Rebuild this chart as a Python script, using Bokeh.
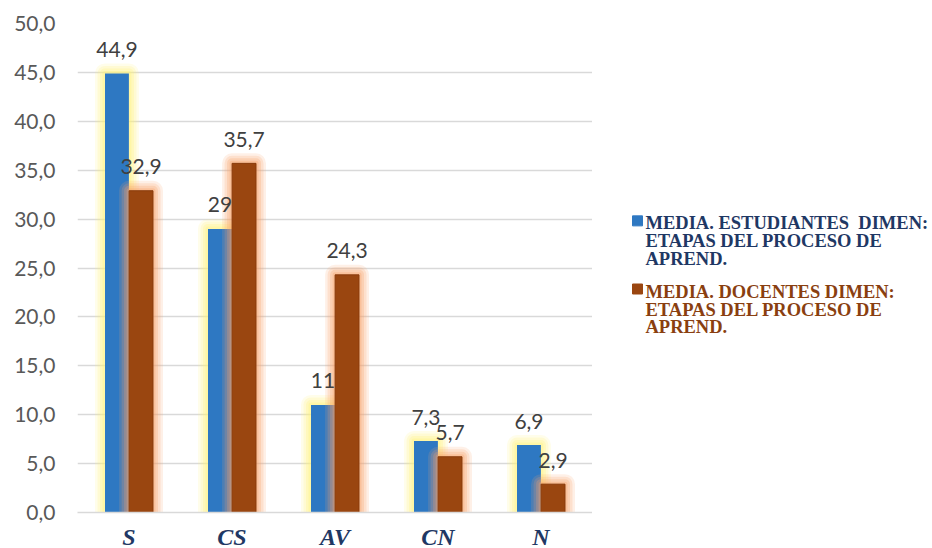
from bokeh.plotting import figure
from bokeh.layouts import row
from bokeh.models import ColumnDataSource, FactorRange, Range1d, CustomJSTickFormatter, FixedTicker
from bokeh.transform import dodge
from bokeh.core.properties import value
from bokeh.embed import file_html
from bokeh.resources import INLINE

categories = ["S", "CS", "AV", "CN", "N"]
estudiantes = [44.9, 29, 11, 7.3, 6.9]
docentes = [32.9, 35.7, 24.3, 5.7, 2.9]
legend_estudiantes = ["MEDIA. ESTUDIANTES\u00a0 DIMEN:", "ETAPAS DEL PROCESO DE", "APREND."]
legend_docentes = ["MEDIA. DOCENTES DIMEN:", "ETAPAS DEL PROCESO DE", "APREND."]
y_ticks = [0, 5, 10, 15, 20, 25, 30, 35, 40, 45, 50]

BLUE = "#2E78C2"
BROWN = "#9A4610"
BLUE_TXT = "#1F3864"
BROWN_TXT = "#8A3F10"


def fmt(v):
    return ("%g" % v).replace(".", ",")


src = ColumnDataSource(dict(
    cat=categories,
    est=estudiantes,
    doc=docentes,
    est_lbl=[fmt(v) for v in estudiantes],
    doc_lbl=[fmt(v) for v in docentes],
))

p = figure(
    x_range=FactorRange(*categories, range_padding=0),
    y_range=Range1d(0, 50),
    frame_width=515, frame_height=489,
    min_border_left=77, min_border_right=0, min_border_top=23, min_border_bottom=36,
    output_backend="svg", toolbar_location=None,
)
p.outline_line_color = None
p.background_fill_color = "white"
p.border_fill_color = "white"

W = 0.232
OFF = 0.117
x_est = dodge("cat", -OFF, range=p.x_range)
x_doc = dodge("cat", OFF, range=p.x_range)

glow_layers = [(20, 0.16), (15, 0.2), (10, 0.26), (5, 0.32)]

# blue glow + bars
for lw, a in glow_layers:
    p.vbar(x=x_est, top="est", width=W, bottom=0, source=src, fill_color=None,
           line_color="#FFF27A", line_alpha=a, line_width=lw, line_join="round")
p.vbar(x=x_est, top="est", width=W, bottom=0, source=src, fill_color=BLUE, line_color=None)

# brown glow + bars
for lw, a in glow_layers:
    p.vbar(x=x_doc, top="doc", width=W, bottom=0, source=src, fill_color=None,
           line_color="#F8A26A", line_alpha=a, line_width=lw, line_join="round")
p.vbar(x=x_doc, top="doc", width=W, bottom=0, source=src, fill_color=BROWN,
       line_color="#8A3C0C", line_width=1)

# data labels
for xs, col in [(x_est, "est"), (x_doc, "doc")]:
    p.text(x=xs, y=col, text=col + "_lbl", source=src, text_align="center", text_baseline="middle",
           y_offset=-24, text_font=value("Lato"), text_font_size="21px", text_color="#404040")

# axes
p.yaxis.ticker = FixedTicker(ticks=y_ticks)
p.ygrid.ticker = FixedTicker(ticks=y_ticks)
p.yaxis.formatter = CustomJSTickFormatter(code="return tick.toFixed(1).replace('.', ',');")
p.yaxis.axis_line_color = None
p.yaxis.major_tick_line_color = None
p.yaxis.minor_tick_line_color = None
p.yaxis.major_tick_out = 0
p.yaxis.major_tick_in = 0
p.yaxis.major_label_standoff = 22
p.yaxis.major_label_text_font = "Lato"
p.yaxis.major_label_text_font_size = "21px"
p.yaxis.major_label_text_color = "#595959"

p.xaxis.axis_line_color = "#D9D9D9"
p.xaxis.axis_line_width = 1.5
p.xaxis.major_tick_line_color = None
p.xaxis.major_tick_out = 0
p.xaxis.major_tick_in = 0
p.xaxis.major_label_standoff = 11
p.xaxis.major_label_text_font = "Liberation Serif"
p.xaxis.major_label_text_font_style = "bold italic"
p.xaxis.major_label_text_font_size = "24px"
p.xaxis.major_label_text_color = BLUE_TXT

p.xgrid.grid_line_color = None
p.ygrid.grid_line_color = "#D9D9D9"
p.ygrid.grid_line_width = 1.5

# legend panel (separate figure to the right)
LW, LH = 340, 548
lg = figure(width=LW, height=LH, x_range=Range1d(0, LW), y_range=Range1d(LH, 0),
            x_axis_type=None, y_axis_type=None, output_backend="svg", toolbar_location=None,
            min_border=0)
lg.outline_line_color = None
lg.grid.grid_line_color = None
lg.background_fill_color = "white"
lg.border_fill_color = "white"

txt_x, txt_y, txt_s, txt_c = [], [], [], []
mk_x, mk_y, mk_c = [], [], []
for lines, ys, mky, tcol, mcol in [
    (legend_estudiantes, [225, 246, 266], 223, BLUE_TXT, BLUE),
    (legend_docentes, [303, 324, 343], 300, BROWN_TXT, BROWN),
]:
    mk_x.append(45)
    mk_y.append(mky)
    mk_c.append(mcol)
    for line, yy in zip(lines, ys):
        txt_x.append(53)
        txt_y.append(yy)
        txt_s.append(line)
        txt_c.append(tcol)

lg.scatter(x=mk_x, y=mk_y, color=mk_c, marker="square", size=10)
lg.text(x=txt_x, y=txt_y, text=txt_s, text_color=txt_c, text_align="left", text_baseline="middle",
        text_font=value("Liberation Serif"), text_font_style="bold", text_font_size="18.5px")

layout = row(p, lg, spacing=0)
open("out.html", "w").write(file_html(layout, INLINE))
